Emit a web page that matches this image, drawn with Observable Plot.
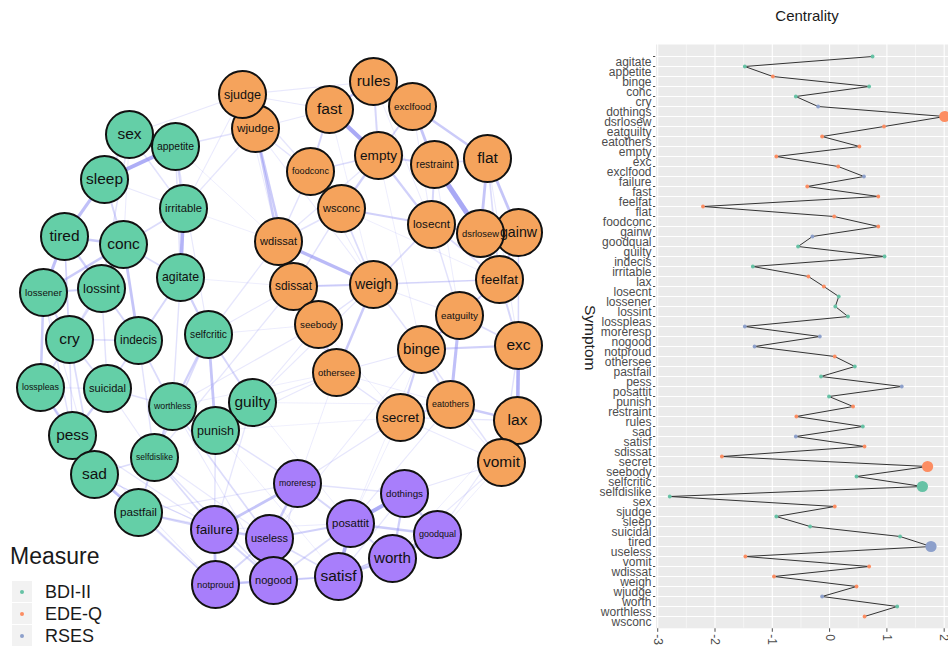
<!DOCTYPE html>
<html><head><meta charset="utf-8">
<script src="https://cdn.jsdelivr.net/npm/d3@7"></script>
<script src="https://cdn.jsdelivr.net/npm/@observablehq/plot@0.6"></script>
<style>
html,body{margin:0;padding:0;background:#fff;}
#wrap{position:relative;width:948px;height:652px;overflow:hidden;font-family:"Liberation Sans",Arial,sans-serif;}
#net{position:absolute;left:0;top:0;width:570px;height:652px;}
#cent{position:absolute;left:580px;top:0;width:378px;height:652px;}
#wrap svg{max-width:none !important;}
.abs{position:absolute;white-space:nowrap;}
</style></head><body>
<div id="wrap">
  <div id="net"></div>
  <div id="cent"></div>
  <div id="ctitle" class="abs" style="left:707px;width:200px;text-align:center;top:6px;font-size:15px;line-height:20px;color:#1a1a1a;">Centrality</div>
  <div id="ylab" class="abs" style="left:560px;top:326px;width:60px;text-align:center;font-size:15.5px;line-height:18px;color:#222;transform:rotate(90deg);">Symptom</div>
  <div id="legend"></div>
</div>
<script>
// ---------- Network data ----------
const measures = ["BDI-II", "EDE-Q", "RSES"];
const nodeFill = ["#64cfa7", "#f5a35c", "#a87efb"];
const legendDot = ["#66c2a5", "#fc8d62", "#8da0cb"];

const bdiNodes = ["sex","appetite","sleep","irritable","tired","conc","lossener","lossint","agitate","cry","indecis","selfcritic","losspleas","suicidal","worthless","guilty","punish","pess","selfdislike","sad","pastfail"];
const bdiX = [129,175,104,183,64,123,43,101,180,69,138,208,40,107,172,252,215,72,154,94,138];
const bdiY = [134,146,179,208,236,244,292,288,277,339,340,334,387,388,406,402,430,435,457,474,512];

const edeNodes = ["wjudge","sjudge","rules","fast","exclfood","empty","restraint","flat","foodconc","wsconc","losecnt","gainw","dsrlosew","wdissat","sdissat","weigh","feelfat","seebody","eatguilty","binge","exc","othersee","secret","eatothers","lax","vomit"];
const edeX = [255,242,373,329,412,378,434,487,310,341,431,518,480,278,293,373,499,318,459,421,518,336,400,450,517,501];
const edeY = [128,94,81,109,106,155,164,158,171,208,224,232,233,241,286,284,279,324,315,349,345,372,417,404,420,462];

const rsesNodes = ["moreresp","failure","useless","notproud","nogood","dothings","posattit","goodqual","worth","satisf"];
const rsesX = [297,214,269,215,273,404,350,437,392,338];
const rsesY = [483,529,538,584,580,493,523,534,558,576];

const edges = [
 ["sleep","appetite",0.6],["sleep","tired",0.45],["tired","lossener",0.45],["tired","conc",0.35],
 ["lossener","conc",0.35],["lossint","conc",0.3],["irritable","agitate",0.55],["agitate","selfcritic",0.3],
 ["indecis","conc",0.4],["indecis","lossint",0.25],["cry","lossener",0.25],["cry","losspleas",0.2],
 ["lossener","losspleas",0.35],["losspleas","pess",0.3],["pess","sad",0.4],["sad","pastfail",0.4],
 ["suicidal","pess",0.3],["suicidal","indecis",0.2],["worthless","selfdislike",0.3],["worthless","punish",0.3],
 ["selfcritic","punish",0.4],["guilty","punish",0.35],["selfcritic","worthless",0.3],["selfdislike","pastfail",0.25],
 ["selfdislike","sad",0.2],["pastfail","failure",0.25],["irritable","appetite",0.25],["appetite","sex",0.2],
 ["sex","sleep",0.2],["cry","indecis",0.2],["cry","sad",0.2],["lossint","lossener",0.3],
 ["agitate","indecis",0.25],["agitate","conc",0.2],["tired","lossint",0.3],
 ["fast","empty",0.7],["fast","rules",0.35],["rules","exclfood",0.35],["exclfood","restraint",0.4],
 ["empty","restraint",0.3],["restraint","dsrlosew",0.8],["exclfood","flat",0.35],["flat","dsrlosew",0.4],
 ["flat","gainw",0.4],["losecnt","dsrlosew",0.3],["empty","losecnt",0.3],["wsconc","losecnt",0.3],
 ["foodconc","wsconc",0.3],["foodconc","fast",0.25],["empty","wsconc",0.3],["wjudge","sdissat",0.35],
 ["wjudge","wdissat",0.35],["sjudge","wjudge",0.3],["wdissat","sdissat",0.35],["wdissat","weigh",0.5],
 ["sdissat","weigh",0.3],["sdissat","seebody",0.4],["seebody","othersee",0.3],["weigh","othersee",0.35],
 ["feelfat","gainw",0.35],["feelfat","dsrlosew",0.3],["feelfat","eatguilty",0.25],["eatguilty","binge",0.3],
 ["eatguilty","eatothers",0.45],["binge","exc",0.3],["exc","lax",0.55],["eatothers","lax",0.35],
 ["binge","secret",0.3],["secret","eatothers",0.3],["lax","vomit",0.4],["binge","eatothers",0.25],
 ["exc","feelfat",0.25],["weigh","losecnt",0.2],["wsconc","weigh",0.2],["restraint","losecnt",0.25],["rules","empty",0.25],
 ["posattit","dothings",0.6],["posattit","satisf",0.55],["satisf","worth",0.35],["worth","goodqual",0.45],
 ["dothings","goodqual",0.35],["worth","dothings",0.3],["posattit","goodqual",0.35],["failure","moreresp",0.4],
 ["useless","moreresp",0.35],["failure","useless",0.3],["failure","notproud",0.4],["notproud","nogood",0.35],
 ["useless","nogood",0.4],["nogood","satisf",0.3],["posattit","useless",0.3],["moreresp","posattit",0.25],
 ["wjudge","appetite",0.15],["sjudge","sex",0.1],["wjudge","irritable",0.12],["wdissat","selfcritic",0.12],
 ["sdissat","selfdislike",0.12],["seebody","worthless",0.1],["weigh","guilty",0.1],["othersee","punish",0.1],
 ["secret","moreresp",0.12],["vomit","dothings",0.12],["lax","goodqual",0.1],["eatothers","posattit",0.1],
 ["binge","useless",0.08],["foodconc","sjudge",0.12],["fast","wjudge",0.1],["rules","sjudge",0.1],
 ["empty","wdissat",0.12],["flat","feelfat",0.2],["gainw","exc",0.15],["selfdislike","failure",0.2],
 ["worthless","useless",0.2],["punish","moreresp",0.15],["guilty","failure",0.12],["pastfail","notproud",0.2],
 ["sad","notproud",0.12],["pess","failure",0.12],["suicidal","worthless",0.15],["selfcritic","guilty",0.25],
 ["selfcritic","selfdislike",0.2],["conc","irritable",0.2],["appetite","agitate",0.15],["sleep","conc",0.25],
 ["sex","lossint",0.15],["lossener","pess",0.15],["losspleas","sad",0.2],["cry","suicidal",0.2],
 ["indecis","worthless",0.2],["indecis","selfdislike",0.15],["agitate","worthless",0.15],["selfdislike","nogood",0.15],
 ["useless","satisf",0.2],["failure","nogood",0.25],["notproud","useless",0.25],["moreresp","dothings",0.15],
 ["nogood","posattit",0.2],["satisf","goodqual",0.2],["worth","posattit",0.25],["sdissat","othersee",0.2],
 ["wdissat","seebody",0.2],["weigh","feelfat",0.2],["weigh","binge",0.15],["losecnt","feelfat",0.2],
 ["gainw","losecnt",0.2],["binge","vomit",0.15],["exc","vomit",0.15],["lax","secret",0.12],
 ["eatguilty","exc",0.2],["eatguilty","losecnt",0.15],["restraint","flat",0.2],["exclfood","empty",0.25],
 ["foodconc","empty",0.2],["foodconc","wdissat",0.15],["wsconc","wdissat",0.15],["wsconc","sdissat",0.15],
 ["seebody","weigh",0.15],["othersee","secret",0.15],["othersee","binge",0.12],["vomit","worth",0.1],
 ["wjudge","foodconc",0.15],["sjudge","fast",0.1],["selfcritic","sdissat",0.1],["irritable","sjudge",0.08],
 ["lossint","suicidal",0.15],["lossint","cry",0.2],["tired","cry",0.2],["conc","cry",0.15],
 ["appetite","selfcritic",0.1],["sex","irritable",0.15],["guilty","seebody",0.1],["guilty","othersee",0.1],
 ["punish","failure",0.15],["pastfail","useless",0.15],["failure","sad",0.12],
 ["irritable","wdissat",0.06],["agitate","sdissat",0.06],["selfcritic","seebody",0.07],["worthless","othersee",0.06],
 ["guilty","eatothers",0.06],["punish","secret",0.05],["pastfail","moreresp",0.1],["selfdislike","useless",0.1],
 ["worthless","nogood",0.08],["guilty","posattit",0.06],["punish","satisf",0.06],["sad","failure",0.08],
 ["pess","notproud",0.08],["suicidal","selfdislike",0.1],["cry","pess",0.12],["losspleas","suicidal",0.1],
 ["lossener","sad",0.08],["tired","pess",0.07],["sleep","irritable",0.1],["sex","conc",0.08],
 ["appetite","wdissat",0.06],["wjudge","weigh",0.08],["sjudge","wdissat",0.07],["fast","weigh",0.06],
 ["rules","losecnt",0.07],["exclfood","losecnt",0.08],["foodconc","weigh",0.08],["wsconc","feelfat",0.06],
 ["empty","binge",0.06],["restraint","eatguilty",0.07],["flat","exc",0.08],["gainw","lax",0.06],
 ["feelfat","binge",0.08],["seebody","secret",0.06],["othersee","eatothers",0.07],["secret","vomit",0.08],
 ["eatothers","vomit",0.08],["vomit","goodqual",0.06],["lax","worth",0.06],["binge","posattit",0.06],
 ["othersee","moreresp",0.07],["secret","posattit",0.06],["weigh","eatguilty",0.08],["sdissat","feelfat",0.05],
 ["moreresp","nogood",0.12],["dothings","satisf",0.12],["goodqual","satisf",0.1],["failure","posattit",0.08],
 ["notproud","satisf",0.08]
];

// ---------- Centrality data ----------
const symptoms = ["agitate","appetite","binge","conc","cry","dothings","dsrlosew","eatguilty","eatothers","empty","exc","exclfood","failure","fast","feelfat","flat","foodconc","gainw","goodqual","guilty","indecis","irritable","lax","losecnt","lossener","lossint","losspleas","moreresp","nogood","notproud","othersee","pastfail","pess","posattit","punish","restraint","rules","sad","satisf","sdissat","secret","seebody","selfcritic","selfdislike","sex","sjudge","sleep","suicidal","tired","useless","vomit","wdissat","weigh","wjudge","worth","worthless","wsconc"];
const centrality = [0.75,-1.48,-0.99,0.69,-0.59,-0.20,2.01,0.95,-0.13,0.52,-0.93,0.15,0.60,-0.39,0.85,-2.21,0.08,0.85,-0.30,-0.55,0.96,-1.34,-0.37,-0.10,0.16,0.10,0.32,-1.48,-0.17,-1.31,0.09,0.44,-0.15,1.26,-0.01,0.41,-0.58,0.58,-0.59,0.61,-1.88,1.71,0.47,1.62,-2.79,0.09,-0.93,-0.34,1.23,1.77,-1.47,0.69,-0.97,0.47,-0.13,1.18,0.61];
const xTicks = [-3,-2,-1,0,1,2];
const xMinor = [-2.5,-1.5,-0.5,0.5,1.5];

// ---------- Build ----------
const nodes = [];
[[bdiNodes,bdiX,bdiY,"BDI-II"],[edeNodes,edeX,edeY,"EDE-Q"],[rsesNodes,rsesX,rsesY,"RSES"]].forEach(([n,xs,ys,m]) => {
  n.forEach((name,i) => nodes.push({name, x: xs[i], y: ys[i], measure: m}));
});
const byName = new Map(nodes.map(d => [d.name, d]));
const edgeData = edges.map(([a,b,w]) => ({a: byName.get(a), b: byName.get(b), w})).sort((p,q) => p.w - q.w);

const ctx = document.createElement("canvas").getContext("2d");
ctx.font = "100px 'Liberation Sans'";
const labelSize = name => Math.min(15.5, 37 * 100 / ctx.measureText(name).width);

const net = Plot.plot({
  width: 570, height: 652, margin: 0,
  x: {domain: [0, 570], range: [0, 570], axis: null},
  y: {domain: [0, 652], range: [0, 652], axis: null},
  color: {domain: measures, range: nodeFill},
  opacity: {type: "identity"},
  style: {fontFamily: "'Liberation Sans', Arial, sans-serif", background: "transparent"},
  marks: [
    Plot.link(edgeData, {
      x1: d => d.a.x, y1: d => d.a.y, x2: d => d.b.x, y2: d => d.b.y,
      stroke: "#8c8cf2",
      strokeWidth: d => 0.6 + d.w * 5.5,
      strokeOpacity: d => Math.min(0.75, 0.1 + d.w * 1.0)
    }),
    Plot.dot(nodes, {x: "x", y: "y", r: 23.5, fill: "measure", stroke: "#111", strokeWidth: 2}),
    Plot.text(nodes, {x: "x", y: "y", text: "name", fill: "#111", fontSize: d => labelSize(d.name)})
  ]
});
document.getElementById("net").appendChild(net);

const measureOf = new Map(nodes.map(d => [d.name, d.measure]));
const cent = symptoms.map((s, i) => ({symptom: s, value: centrality[i], measure: measureOf.get(s)}));

const right = Plot.plot({
  width: 378, height: 652,
  marginLeft: 75.5, marginRight: 0, marginTop: 44, marginBottom: 24.2,
  x: {domain: [-3.03, 2.25], ticks: xTicks, tickRotate: 90, tickSize: 4, tickPadding: 2, label: null, tickFormat: d => String(d)},
  y: {type: "point", domain: symptoms, padding: 0.6, tickSize: 2.5, tickPadding: 0, tickFormat: () => "", label: null},
  color: {domain: measures, range: legendDot},
  style: {fontFamily: "'Liberation Sans', Arial, sans-serif", fontSize: "12px", color: "#4d4d4d", background: "transparent"},
  marks: [
    Plot.frame({fill: "#ebebeb", stroke: "none"}),
    Plot.ruleX(xMinor, {stroke: "#fff", strokeWidth: 0.5}),
    Plot.ruleX(xTicks, {stroke: "#fff", strokeWidth: 1.1}),
    Plot.ruleY(symptoms, {stroke: "#fff", strokeWidth: 1.1}),
    Plot.line(cent, {x: "value", y: "symptom", stroke: "#333", strokeWidth: 1}),
    Plot.dot(cent.filter(d => d.value <= 1.5), {x: "value", y: "symptom", fill: "measure", r: 1.9}),
    Plot.dot(cent.filter(d => d.value > 1.5), {x: "value", y: "symptom", fill: "measure", r: 5.6}),
    Plot.text(symptoms, {y: d => d, frameAnchor: "left", dx: -4.5, dy: 6, textAnchor: "end", fill: "#4d4d4d", fontSize: 12})
  ]
});
document.getElementById("cent").appendChild(right);

// ---------- Legend ----------
const lg = document.getElementById("legend");
const head = document.createElement("div");
head.className = "abs";
head.style.cssText = "left:10px;top:545px;font-size:23px;line-height:23px;color:#1a1a1a;";
head.textContent = "Measure";
lg.appendChild(head);
measures.forEach((m, i) => {
  const top = 581 + i * 22;
  const box = document.createElement("div");
  box.className = "abs";
  box.style.cssText = `left:12px;top:${top}px;width:20px;height:21px;background:#f2f2f2;`;
  const dot = document.createElement("div");
  dot.className = "abs";
  dot.style.cssText = `left:8px;top:8.5px;width:4px;height:4px;border-radius:50%;background:${legendDot[i]};`;
  box.appendChild(dot);
  lg.appendChild(box);
  const t = document.createElement("div");
  t.className = "abs";
  t.style.cssText = `left:45px;top:${top + 2}px;font-size:18px;line-height:18px;color:#1a1a1a;`;
  t.textContent = m;
  lg.appendChild(t);
});
</script>
</body></html>
